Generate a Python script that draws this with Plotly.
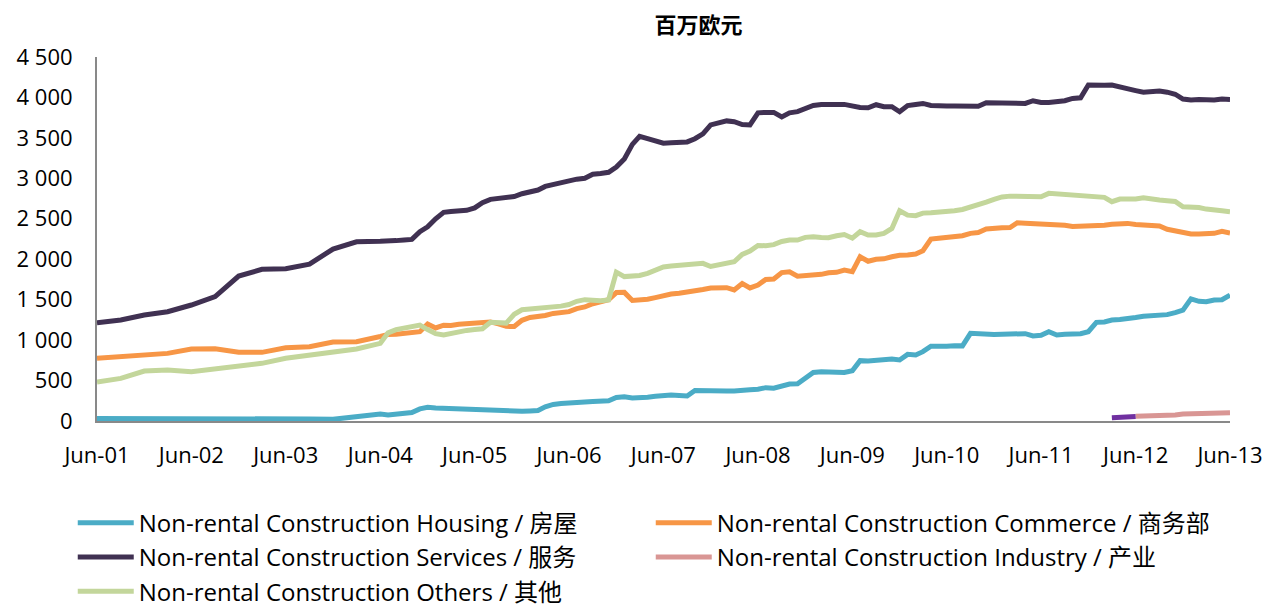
import pandas as pd
import plotly.graph_objects as go

# x: quarterly points Jun-01..Jun-04, monthly afterwards
dates_q = pd.date_range("2001-06-01", "2004-06-01", freq="3MS")
dates_m = pd.date_range("2004-07-01", "2013-06-01", freq="MS")
dates = list(dates_q) + list(dates_m)

housing_q = [30, 30, 30, 35, 38, 38, 35, 30, 25, 25, 21, 50, 85]
housing_m = [75, 85, 95, 105, 150, 170, 160, 155, 150, 145, 140, 135,
             130, 128, 125, 118, 115, 120, 125, 130, 175, 205, 215, 218,
             218, 235, 240, 240, 250, 290, 300, 285, 285, 295, 305, 315,
             320, 315, 310, 378, 380, 378, 375, 372, 372, 373, 385, 392,
             412, 405, 433, 457, 460, 527, 600, 610, 602, 600, 600, 622,
             746, 742, 746, 754, 766, 754, 824, 816, 857, 925, 919, 925,
             931, 929, 1084, 1075, 1063, 1068, 1071, 1073, 1075, 1080, 1051, 1059,
             1104, 1063, 1071, 1075, 1080, 1104, 1220, 1225, 1248, 1255, 1261, 1280,
             1295, 1302, 1310, 1315, 1340, 1370, 1510, 1480, 1475, 1496, 1500, 1557]

commerce_q = [775, 795, 816, 836, 890, 894, 849, 849, 906, 918, 976, 980, 1045]
commerce_m = [1070, 1072, 1080, 1090, 1104, 1200, 1150, 1185, 1180, 1195, 1205, 1212,
              1218, 1225, 1200, 1170, 1168, 1245, 1280, 1290, 1305, 1330, 1345, 1352,
              1390, 1410, 1450, 1475, 1500, 1588, 1590, 1490, 1490, 1505, 1525, 1550,
              1570, 1580, 1590, 1605, 1625, 1645, 1648, 1648, 1620, 1700, 1645, 1680,
              1750, 1755, 1835, 1845, 1790, 1796, 1805, 1813, 1833, 1838, 1866, 1846,
              2030, 1975, 2000, 2005, 2031, 2050, 2052, 2064, 2105, 2250, 2260, 2266,
              2270, 2290, 2320, 2330, 2373, 2385, 2390, 2392, 2450, 2445, 2440, 2435,
              2432, 2431, 2420, 2405, 2405, 2410, 2414, 2420, 2431, 2435, 2443, 2430,
              2425, 2423, 2410, 2370, 2350, 2320, 2311, 2311, 2311, 2320, 2345, 2325]

services_q = [1215, 1248, 1310, 1351, 1434, 1537, 1792, 1875, 1883, 1940, 2126, 2216, 2221]
services_m = [2220, 2230, 2237, 2245, 2340, 2400, 2500, 2580, 2590, 2600, 2605, 2635,
              2700, 2740, 2755, 2765, 2775, 2810, 2825, 2855, 2900, 2925, 2955, 2980,
              2990, 3000, 3050, 3060, 3075, 3140, 3240, 3420, 3520, 3490, 3460, 3435,
              3440, 3440, 3450, 3490, 3550, 3660, 3680, 3710, 3700, 3665, 3660, 3810,
              3815, 3815, 3760, 3810, 3825, 3865, 3900, 3912, 3918, 3912, 3914, 3890,
              3875, 3873, 3910, 3885, 3885, 3823, 3900, 3914, 3926, 3900, 3890, 3893,
              3893, 3890, 3885, 3890, 3935, 3935, 3935, 3930, 3926, 3926, 3959, 3939,
              3939, 3947, 3959, 3988, 3996, 4153, 4145, 4150, 4153, 4135, 4105, 4085,
              4065, 4070, 4079, 4065, 4040, 3980, 3968, 3976, 3970, 3968, 3980, 3976]

others_q = [482, 527, 618, 630, 610, 643, 672, 713, 775, 816, 857, 890, 960]
others_m = [1090, 1130, 1150, 1166, 1185, 1130, 1080, 1065, 1085, 1100, 1120, 1130,
            1140, 1220, 1220, 1210, 1320, 1375, 1385, 1392, 1400, 1412, 1420, 1440,
            1480, 1500, 1490, 1487, 1496, 1840, 1785, 1790, 1800, 1825, 1870, 1905,
            1915, 1920, 1935, 1945, 1949, 1910, 1930, 1960, 1969, 2060, 2100, 2170,
            2167, 2180, 2220, 2237, 2237, 2270, 2278, 2270, 2266, 2290, 2305, 2260,
            2340, 2300, 2300, 2320, 2380, 2600, 2545, 2538, 2570, 2575, 2580, 2583,
            2600, 2615, 2640, 2665, 2705, 2740, 2770, 2780, 2781, 2773, 2781, 2773,
            2814, 2806, 2802, 2802, 2790, 2785, 2780, 2765, 2711, 2744, 2744, 2744,
            2760, 2740, 2732, 2723, 2715, 2649, 2649, 2640, 2620, 2616, 2600, 2588]

industry_x = pd.date_range("2012-06-01", "2013-06-01", freq="MS")
industry = [58, 60, 60, 60, 62, 75, 85, 88, 88, 90, 93, 97, 102]
industry_old_x = pd.date_range("2012-03-01", "2012-06-01", freq="MS")
industry_old = [40, 45, 48, 55]

font_main = "'Open Sans', 'Noto Sans CJK SC', sans-serif"

fig = go.Figure()

def add_line(x, y, name, color, show=True):
    fig.add_trace(go.Scatter(x=x, y=y, mode="lines", name=name, showlegend=show,
                             line=dict(color=color, width=5)))

add_line(dates, housing_q + housing_m, "Non-rental Construction Housing / 房屋", "#4BACC6")
add_line(dates, commerce_q + commerce_m, "Non-rental Construction Commerce / 商务部", "#F79646")
add_line(dates, services_q + services_m, "Non-rental Construction Services / 服务", "#403152")
add_line(industry_x, industry, "Non-rental Construction Industry / 产业", "#D99694")
add_line(dates, others_q + others_m, "Non-rental Construction Others / 其他", "#C3D69B")
add_line(industry_old_x, industry_old, "Industry (old)", "#7030A0", show=False)

# page body has an 8px margin, so the figure is shifted by 8px
fig.update_layout(
    width=1255, height=602,
    margin=dict(l=89, r=33, t=49, b=189, autoexpand=False),
    paper_bgcolor="white", plot_bgcolor="white",
    font=dict(family=font_main, size=22, color="black"),
    separators=". ",
    title=dict(text="<b>百万欧元</b>", x=0.531, xref="paper", xanchor="center",
               y=0.972, yanchor="middle",
               font=dict(family="'Noto Sans CJK SC', sans-serif", size=22)),
    xaxis=dict(type="date", range=["2001-06-01", "2013-06-01"],
               tick0="2001-06-01", dtick="M12", tickformat="%b-%y",
               showgrid=False, zeroline=False, showline=True,
               linecolor="#898989", linewidth=2, ticks="", ticklabelstandoff=14),
    yaxis=dict(range=[0, 4500], dtick=500, tickformat=",d",
               showgrid=False, zeroline=False, showline=True,
               linecolor="#898989", linewidth=2, ticks="", ticklabelstandoff=18),
    legend=dict(orientation="h", x=-0.0214, y=-0.219,
                xanchor="left", yanchor="top",
                entrywidth=507, entrywidthmode="pixels", itemwidth=56,
                font=dict(size=24), traceorder="normal"),
)

fig.write_html("out.html")
